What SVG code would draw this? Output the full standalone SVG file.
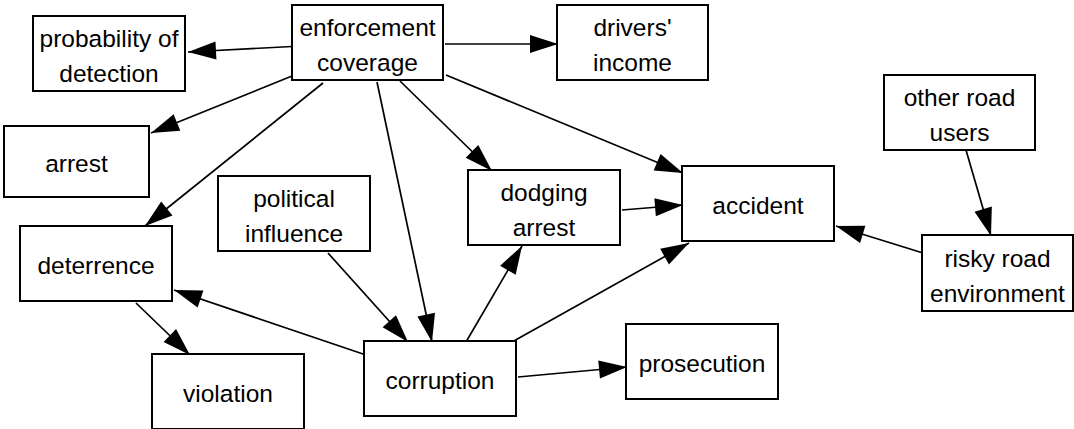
<svg xmlns="http://www.w3.org/2000/svg" width="1074" height="429" viewBox="0 0 1074 429">
  <style>
    .node rect { fill: #ffffff; stroke: #000000; stroke-width: 2; }
    .node text { font-family: "Liberation Sans", Arial, sans-serif; font-size: 24.5px; fill: #000000; text-anchor: middle; }
    .edges line { stroke: #000000; stroke-width: 1.7; marker-end: url(#arrow); }
  </style>
  <defs>
    <!-- filled triangular arrowhead, tip at the end of each connector -->
    <marker id="arrow" markerUnits="userSpaceOnUse" markerWidth="29" markerHeight="19" refX="28" refY="9" orient="auto" overflow="visible">
      <path d="M0,0 L28,9 L0,18 z" fill="#000000"/>
    </marker>
  </defs>

  <rect width="1074" height="429" fill="#ffffff"/>

  <!-- connectors -->
  <g id="edges" class="edges">
    <line x1="292" y1="46.5" x2="188" y2="52"/>
    <line x1="445" y1="44" x2="558" y2="44"/>
    <line x1="292" y1="76" x2="151" y2="133"/>
    <line x1="323" y1="83" x2="145" y2="226"/>
    <line x1="377" y1="82" x2="432" y2="342"/>
    <line x1="400" y1="81" x2="492" y2="171"/>
    <line x1="446" y1="75" x2="683" y2="173"/>
    <line x1="622" y1="210" x2="683" y2="205"/>
    <line x1="466" y1="342" x2="522" y2="246"/>
    <line x1="512" y1="342" x2="689" y2="243"/>
    <line x1="518" y1="377" x2="627" y2="367"/>
    <line x1="366" y1="355" x2="174" y2="290"/>
    <line x1="328" y1="253" x2="408" y2="342"/>
    <line x1="136" y1="303" x2="190" y2="355"/>
    <line x1="923" y1="253" x2="836" y2="226"/>
    <line x1="966" y1="150" x2="991" y2="236"/>
  </g>

  <!-- nodes -->
  <g id="probability-of-detection" class="node">
    <rect x="33" y="16" width="152" height="75"/>
    <text x="109" y="47">probability of</text>
    <text x="109" y="82">detection</text>
  </g>
  <g id="enforcement-coverage" class="node">
    <rect x="292" y="5" width="151" height="75"/>
    <text x="367.5" y="36">enforcement</text>
    <text x="367.5" y="71">coverage</text>
  </g>
  <g id="drivers-income" class="node">
    <rect x="557" y="5" width="151" height="75"/>
    <text x="632.5" y="36">drivers'</text>
    <text x="632.5" y="71">income</text>
  </g>
  <g id="arrest" class="node">
    <rect x="4" y="126" width="145" height="71"/>
    <text x="76.5" y="171.5">arrest</text>
  </g>
  <g id="political-influence" class="node">
    <rect x="218" y="176" width="152" height="75"/>
    <text x="294" y="207">political</text>
    <text x="294" y="242">influence</text>
  </g>
  <g id="deterrence" class="node">
    <rect x="20" y="226" width="152" height="75"/>
    <text x="96" y="273.5">deterrence</text>
  </g>
  <g id="dodging-arrest" class="node">
    <rect x="468" y="170" width="152" height="75"/>
    <text x="544" y="201">dodging</text>
    <text x="544" y="236">arrest</text>
  </g>
  <g id="accident" class="node">
    <rect x="682" y="166" width="152" height="75"/>
    <text x="758" y="213.5">accident</text>
  </g>
  <g id="other-road-users" class="node">
    <rect x="884" y="75" width="151" height="75"/>
    <text x="959.5" y="106">other road</text>
    <text x="959.5" y="141">users</text>
  </g>
  <g id="risky-road-environment" class="node">
    <rect x="922" y="235" width="151" height="76"/>
    <text x="997.5" y="266.5">risky road</text>
    <text x="997.5" y="301.5">environment</text>
  </g>
  <g id="violation" class="node">
    <rect x="152" y="354" width="152" height="75"/>
    <text x="228" y="401.5">violation</text>
  </g>
  <g id="corruption" class="node">
    <rect x="364" y="341" width="152" height="75"/>
    <text x="440" y="388.5">corruption</text>
  </g>
  <g id="prosecution" class="node">
    <rect x="626" y="324" width="152" height="75"/>
    <text x="702" y="371.5">prosecution</text>
  </g>
</svg>
